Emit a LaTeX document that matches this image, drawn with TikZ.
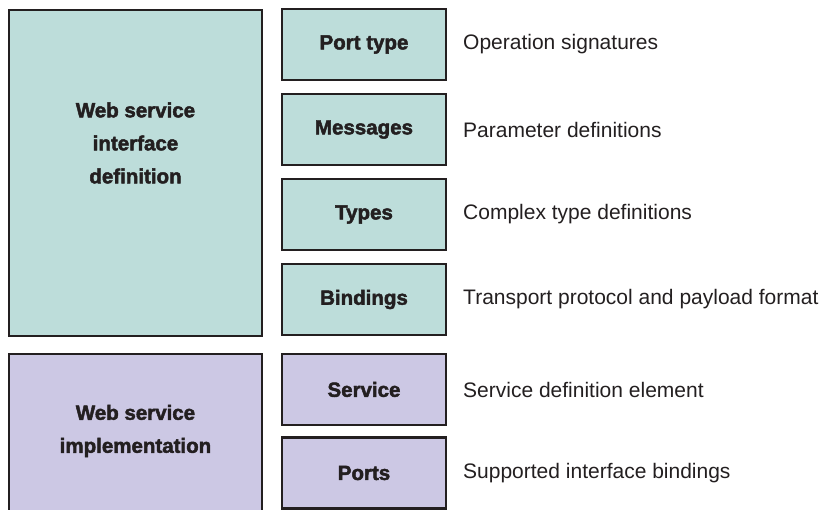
\documentclass[tikz,border=0pt]{standalone}
\usepackage{fontspec}
\setmainfont{Liberation Sans}
\newfontfamily\heavyfont{Liberation Sans Bold}[FakeBold=2.2]
\definecolor{tealfill}{RGB}{189,221,218}
\definecolor{purplefill}{RGB}{204,200,228}
\definecolor{ink}{RGB}{35,31,32}
\begin{document}
\begin{tikzpicture}[x=1bp,y=-1bp,
  box/.style={draw=ink, line width=2.6bp, inner sep=0pt, outer sep=0pt},
  tealbox/.style={box, fill=tealfill},
  purplebox/.style={box, fill=purplefill},
  part/.style={minimum width=164bp, minimum height=71bp, text=ink,
    font=\heavyfont\fontsize{20.5bp}{24bp}\selectfont},
  biglabel/.style={text=ink, align=center,
    font=\heavyfont\fontsize{20.5bp}{33bp}\selectfont},
  desc/.style={anchor=west, text=ink, inner sep=0pt,
    font=\fontsize{21bp}{25bp}\selectfont}]
\useasboundingbox (0,0) rectangle (829,510);
\clip (0,0) rectangle (829,510);
% left big boxes
\node[tealbox, minimum width=253bp, minimum height=326bp] (iface) at (135.5,173) {};
\node[purplebox, minimum width=253bp, minimum height=166bp] (impl) at (135.5,437) {};
\node[biglabel] (ifacelabel) at (135.5,143) {Web service\\interface\\definition};
\node[biglabel] (impllabel) at (135.5,431) {Web service\\implementation};
% right parts
\node[tealbox, part] (porttype) at (364,44.5) {Port type};
\node[tealbox, part] (messages) at (364,129.5) {Messages};
\node[tealbox, part] (types) at (364,214.5) {Types};
\node[tealbox, part] (bindings) at (364,299.5) {Bindings};
\node[purplebox, part] (service) at (364,389.5) {Service};
\node[purplebox, part] (ports) at (364,473) {Ports};
% descriptions
\node[desc] (d1) at (463,44.5) {Operation signatures};
\node[desc] (d2) at (463,129.5) {Parameter definitions};
\node[desc] (d3) at (463,214.5) {Complex type definitions};
\node[desc] (d4) at (463,299.5) {Transport protocol and payload format};
\node[desc] (d5) at (463,389.5) {Service definition element};
\node[desc] (d6) at (463,473) {Supported interface bindings};
\end{tikzpicture}
\end{document}
